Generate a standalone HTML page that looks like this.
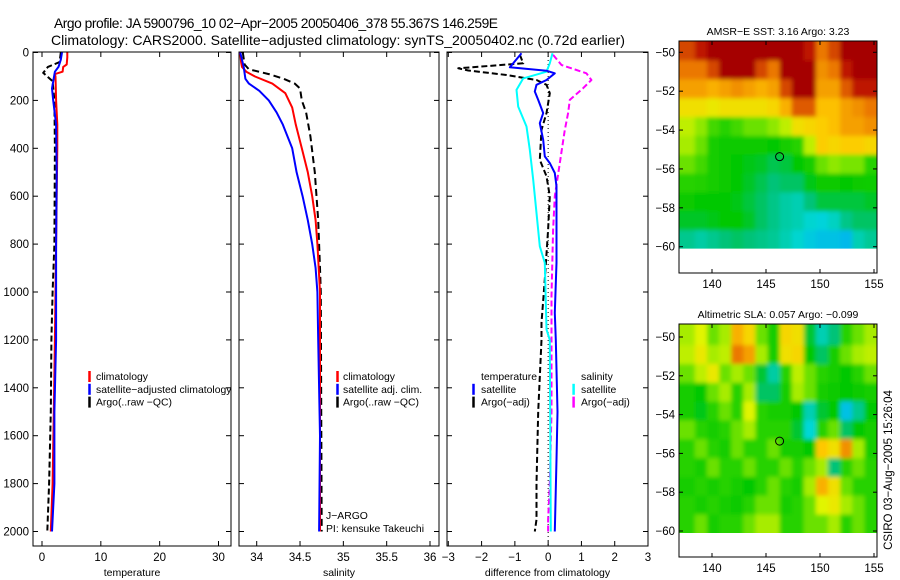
<!DOCTYPE html>
<html><head><meta charset="utf-8">
<style>
html,body{margin:0;padding:0;background:#fff;}
svg{display:block;font-family:"Liberation Sans","DejaVu Sans",sans-serif;}
</style></head>
<body>
<svg id="fig" width="900" height="580" viewBox="0 0 900 580" xmlns="http://www.w3.org/2000/svg">
<text x="54" y="28" font-size="13.8" textLength="444" lengthAdjust="spacing">Argo profile: JA 5900796_10 02−Apr−2005 20050406_378 55.367S 146.259E</text>
<text x="51" y="45" font-size="13.8" textLength="574" lengthAdjust="spacingAndGlyphs">Climatology: CARS2000. Satellite−adjusted climatology: synTS_20050402.nc (0.72d earlier)</text>
<g id="plots"></g>
<text transform="translate(892,470) rotate(-90)" text-anchor="middle" font-size="11.5">CSIRO 03−Aug−2005 15:26:04</text>
</svg>
<script>
// ---------- profile data ----------
const tempClimDepth = [0,20,50,60,80,90,100,200,300,400,600,1000,1200,1500,1800,2000];
const tempClimVal   = [4.3,4.3,4.2,3.6,3.5,2.2,2.3,2.4,2.6,2.6,2.5,2.3,2.2,2.0,1.8,1.5];
const tempSatDepth  = [0,30,60,80,150,200,300,500,800,1000,1200,1500,1800,2000];
const tempSatVal    = [3.4,3.2,2.8,2.2,1.7,1.9,2.4,2.5,2.4,2.4,2.4,2.1,2.1,1.7];
const tempArgoDepth = [0,40,60,85,120,200,400,800,1000,1200,1500,1800,2000];
const tempArgoVal   = [3.2,3.0,1.0,0.2,1.8,2.1,2.2,2.1,1.8,1.6,1.5,1.2,0.9];

const salClimDepth = [0,40,60,80,100,130,170,230,300,400,500,600,700,800,1000,2000];
const salClimVal   = [33.81,33.82,33.83,33.88,33.98,34.18,34.33,34.41,34.45,34.52,34.59,34.64,34.68,34.70,34.73,34.73];
const salSatDepth  = [0,60,110,130,160,200,250,300,400,500,600,700,800,900,1000,1200,1600,2000];
const salSatVal    = [33.81,33.85,33.87,33.91,34.03,34.14,34.23,34.30,34.41,34.46,34.53,34.59,34.64,34.68,34.70,34.71,34.73,34.72];
const salArgoDepth = [0,50,70,90,110,130,150,200,250,350,500,700,900,1000,2000];
const salArgoVal   = [33.84,33.86,33.91,34.14,34.31,34.44,34.50,34.52,34.57,34.62,34.67,34.71,34.73,34.74,34.75];

const dTempSatDepth = [3,62,76,87,115,135,163,198,253,295,365,434,462,503,559,878,1087,1200,1500,1700,2000];
const dTempSatVal   = [-0.8,-1.15,-0.05,0.2,-0.05,-0.35,-0.4,-0.3,-0.15,-0.25,-0.15,-0.1,0.05,0.2,0.25,0.25,0.2,0.23,0.28,0.25,0.2];
const dTempArgoDepth = [10,45,66,75,94,115,135,170,253,323,448,517,600,740,948,1128,1200,1500,1800,1950,2000];
const dTempArgoVal   = [-0.85,-0.75,-2.7,-2.4,-1.25,-0.35,-0.05,0.05,-0.05,-0.2,-0.25,-0.05,0.05,0,-0.1,-0.2,-0.2,-0.3,-0.35,-0.35,-0.4];
const dSalSatDepth = [3,45,80,108,156,226,309,406,531,670,809,878,1156,1200,2000];
const dSalSatVal   = [0.13,0.05,-0.05,-0.75,-0.95,-0.9,-0.65,-0.55,-0.45,-0.35,-0.25,-0.1,-0.05,0.05,0.08];
const dSalArgoDepth = [10,52,87,115,149,198,253,323,462,600,740,1017,1156,1500,1800,1950,2000];
const dSalArgoVal   = [0.15,0.4,1.15,1.3,1.05,0.65,0.6,0.5,0.35,0.2,0.15,0.1,0.1,0.1,0.05,0.0,0.0];

const depthTicks = [0,200,400,600,800,1000,1200,1400,1600,1800,2000];
const tempTicks = [0,10,20,30];
const salTicks = [34,34.5,35,35.5,36];
const salTickLabels = ["34","34.5","35","35.5","36"];
const diffTicks = [-3,-2,-1,0,1,2,3];

// ---------- map data (rows: lat -50..-60, cols: lon 137.8..154.3) ----------
const sstGrid = [
[0.9,0.95,1,1,1,1,1,1,1,1,0.95,0.85,0.9,1,1,1],
[0.85,0.85,0.9,1,1,1,0.9,0.85,1,1,1,0.82,0.85,0.95,1,1],
[0.8,0.8,0.78,0.8,0.82,0.8,0.78,0.8,0.9,1,1,0.8,0.8,0.88,0.95,0.95],
[0.7,0.7,0.68,0.7,0.7,0.7,0.7,0.72,0.78,0.88,0.88,0.76,0.76,0.8,0.82,0.85],
[0.62,0.58,0.52,0.5,0.52,0.55,0.55,0.58,0.62,0.7,0.72,0.74,0.76,0.8,0.8,0.82],
[0.6,0.55,0.45,0.42,0.42,0.42,0.42,0.4,0.45,0.5,0.62,0.74,0.72,0.74,0.74,0.72],
[0.55,0.52,0.45,0.42,0.4,0.38,0.36,0.32,0.34,0.4,0.45,0.55,0.58,0.56,0.56,0.5],
[0.5,0.48,0.45,0.42,0.4,0.36,0.32,0.28,0.3,0.3,0.38,0.42,0.42,0.4,0.42,0.44],
[0.42,0.4,0.4,0.4,0.38,0.34,0.3,0.26,0.22,0.2,0.28,0.34,0.34,0.34,0.34,0.36],
[0.36,0.36,0.38,0.4,0.4,0.36,0.3,0.26,0.22,0.2,0.16,0.14,0.18,0.26,0.3,0.3],
[0.25,0.22,0.25,0.28,0.3,0.28,0.26,0.24,0.2,0.16,0.12,0.1,0.1,0.08,0.2,0.24]];
const slaGrid = [
[0.6,0.65,0.55,0.6,0.78,0.72,0.55,0.45,0.72,0.7,0.35,0.2,0.28,0.5,0.55,0.6],
[0.62,0.68,0.6,0.62,0.85,0.8,0.6,0.45,0.7,0.72,0.4,0.3,0.45,0.55,0.6,0.62],
[0.55,0.62,0.68,0.55,0.6,0.55,0.35,0.22,0.5,0.62,0.55,0.5,0.45,0.4,0.5,0.55],
[0.45,0.4,0.55,0.6,0.5,0.6,0.3,0.3,0.45,0.6,0.55,0.45,0.42,0.4,0.42,0.45],
[0.45,0.38,0.5,0.55,0.5,0.65,0.5,0.45,0.45,0.4,0.2,0.35,0.4,0.1,0.25,0.4],
[0.55,0.5,0.45,0.5,0.55,0.6,0.5,0.5,0.5,0.35,0.15,0.5,0.55,0.3,0.4,0.45],
[0.5,0.55,0.5,0.45,0.55,0.5,0.5,0.55,0.45,0.45,0.4,0.75,0.7,0.82,0.6,0.45],
[0.5,0.45,0.55,0.5,0.5,0.55,0.5,0.5,0.55,0.5,0.55,0.6,0.28,0.5,0.55,0.5],
[0.45,0.5,0.45,0.5,0.45,0.4,0.5,0.55,0.5,0.45,0.6,0.78,0.7,0.55,0.5,0.5],
[0.5,0.45,0.5,0.45,0.42,0.5,0.55,0.55,0.45,0.5,0.55,0.65,0.68,0.6,0.55,0.5],
[0.5,0.55,0.45,0.5,0.5,0.55,0.6,0.6,0.5,0.5,0.55,0.55,0.6,0.5,0.55,0.5]];
const gridLon0 = 137.3, gridLonStep = 1.12, gridLat0 = -49.45, gridLatStep = 0.97;
const argoLon = 146.259, argoLat = -55.367;
const lonTicks = [140,145,150,155];
const latTicks = [-50,-52,-54,-56,-58,-60];

const NS="http://www.w3.org/2000/svg";
const root=document.getElementById('plots');
function mk(tag,attrs,parent){const e=document.createElementNS(NS,tag);for(const k in attrs)e.setAttribute(k,attrs[k]);(parent||root).appendChild(e);return e;}
function txt(s,x,y,attrs,parent){const t=mk('text',Object.assign({x:x,y:y,'font-size':11.5},attrs||{}),parent);t.textContent=s;return t;}

const yTop=52.5, yPerM=0.2395;
function yDepth(d){return yTop+d*yPerM;}
function linScale(d0,d1,p0,p1){return v=>p0+(v-d0)*(p1-p0)/(d1-d0);}

function panel(name,x0,x1,xs,ticks,labels,xlabel,showY){
  const g=mk('g',{});
  
  
  const yb=546;
  const box=mk('rect',{x:x0,y:52,width:x1-x0,height:yb-52,fill:'none',stroke:'#000','stroke-width':1},g);
  
  
  ticks.forEach((t,i)=>{const x=xs(t);
    mk('line',{x1:x,x2:x,y1:yb,y2:yb-5,stroke:'#000'},g);
    mk('line',{x1:x,x2:x,y1:52,y2:57,stroke:'#000'},g);
    const l=txt(labels[i],x,561,{'text-anchor':'middle'},g);
    
    
  });
  depthTicks.forEach(d=>{const y=yDepth(d);
    mk('line',{x1:x0,x2:x0+5,y1:y,y2:y,stroke:'#000'},g);
    mk('line',{x1:x1,x2:x1-5,y1:y,y2:y,stroke:'#000'},g);
    if(showY){const l=txt(String(d),29,y+4,{'text-anchor':'end'},g);
      
      }
  });
  const xl=txt(xlabel,(x0+x1)/2,576,{'text-anchor':'middle','font-size':10.5},g);
  
  
  return g;
}
function profile(g,name,xs,vals,depths,color,dash,w){
  const pts=vals.map((v,i)=>xs(v).toFixed(1)+','+yDepth(depths[i]).toFixed(1)).join(' ');
  const p=mk('polyline',{points:pts,fill:'none',stroke:color,'stroke-width':w||2,'stroke-dasharray':dash||'none','stroke-linejoin':'round'},g);
  
  
}
function legend(g,items,xb,xt,y0){
  items.forEach((it,i)=>{const y=y0+i*12.8;
    if(it[1]){const b=mk('line',{x1:xb,x2:xb,y1:y-9,y2:y+2,stroke:it[1],'stroke-width':2.5},g);
      
      }
    const t=txt(it[0],xt,y,{'font-size':10.4},g);
    
    
  });
}
// panel 1
const xT=linScale(0,30,42,218.5);
const g1=panel('temperature-panel',33,231,xT,tempTicks,tempTicks.map(String),'temperature',true);
profile(g1,'temp-argo-line',xT,tempArgoVal,tempArgoDepth,'#000','6,3');
profile(g1,'temp-climatology-line',xT,tempClimVal,tempClimDepth,'#f00');
profile(g1,'temp-satellite-line',xT,tempSatVal,tempSatDepth,'#00f');
legend(g1,[['climatology','#f00'],['satellite−adjusted climatology','#00f'],['Argo(..raw −QC)','#000']],89.5,96,380);
// panel 2
const xS=linScale(34,36,256.7,430);
const g2=panel('salinity-panel',239,439,xS,salTicks,salTickLabels,'salinity',false);
profile(g2,'sal-argo-line',xS,salArgoVal,salArgoDepth,'#000','7,4');
profile(g2,'sal-climatology-line',xS,salClimVal,salClimDepth,'#f00');
profile(g2,'sal-satellite-line',xS,salSatVal,salSatDepth,'#00f');
legend(g2,[['climatology','#f00'],['satellite adj. clim.','#00f'],['Argo(..raw −QC)','#000']],337.5,343,380);
legend(g2,[['J−ARGO',null],['PI: kensuke Takeuchi',null]],0,326,519);
// panel 3
const xD=linScale(-3,3,448.3,648);
const g3=panel('difference-panel',447,648,xD,diffTicks,diffTicks.map(v=>v<0?'−'+(-v):String(v)),'difference from climatology',false);
const z=mk('line',{x1:xD(0),x2:xD(0),y1:52,y2:546,stroke:'#000','stroke-dasharray':'1,3'},g3);


profile(g3,'dtemp-argo-line',xD,dTempArgoVal,dTempArgoDepth,'#000','6,3');
profile(g3,'dsal-argo-line',xD,dSalArgoVal,dSalArgoDepth,'#f0f','6,3');
profile(g3,'dsal-satellite-line',xD,dSalSatVal,dSalSatDepth,'#0ff');
profile(g3,'dtemp-satellite-line',xD,dTempSatVal,dTempSatDepth,'#00f');
legend(g3,[['temperature',null],['satellite','#00f'],['Argo(−adj)','#000']],473.5,481,380);
legend(g3,[['salinity',null],['satellite','#0ff'],['Argo(−adj)','#f0f']],573.6,581,380);

// ---------- maps ----------
const defs=mk('defs',{});
const flt=mk('filter',{id:'smooth',x:'-10%',y:'-10%',width:'120%',height:'120%'},defs);
mk('feGaussianBlur',{stdDeviation:2.2},flt);
const stops=[[0,[0,150,255]],[0.15,[0,215,215]],[0.28,[0,195,120]],[0.4,[0,200,0]],[0.5,[40,210,0]],[0.56,[120,228,0]],[0.65,[225,245,0]],[0.75,[255,200,0]],[0.85,[235,120,0]],[0.95,[190,20,0]],[1,[165,0,0]]];
function cmap(v){v=Math.max(0,Math.min(1,v));for(let i=1;i<stops.length;i++){if(v<=stops[i][0]){const a=stops[i-1],b=stops[i];const t=(v-a[0])/(b[0]-a[0]);const c=a[1].map((x,k)=>Math.round(x+(b[1][k]-x)*t));return 'rgb('+c.join(',')+')';}}return 'rgb(165,0,0)';}
function map(name,grid,title,top,bottom,lat50y,lat60y){
  const g=mk('g',{});
  
  
  const xL=linScale(140,150,712,820), yL=linScale(-50,-60,lat50y,lat60y);
  const x0=679,x1=877;
  const cid=name+'-clip';
  const cp=mk('clipPath',{id:cid},g);mk('rect',{x:x0,y:top,width:x1-x0,height:yL(-60.1)-top},cp);
  const clipG=mk('g',{'clip-path':'url(#'+cid+')'},g);
  const cells=mk('g',{filter:'url(#smooth)'},clipG);
  const nr=grid.length, nc=grid[0].length;
  grid.forEach((row,r)=>row.forEach((v,c)=>{
    const lonA=gridLon0+c*gridLonStep, latA=gridLat0-r*gridLatStep;
    let xa=xL(lonA), ya=yL(latA);
    let xb=xL(lonA+gridLonStep)+0.6, yb=yL(latA-gridLatStep)+0.6;
    if(c===0)xa-=20; if(c===nc-1)xb+=20; if(r===0)ya-=20; if(r===nr-1)yb+=20;
    const cell=mk('rect',{x:xa.toFixed(1),y:ya.toFixed(1),width:(xb-xa).toFixed(1),height:(yb-ya).toFixed(1),fill:cmap(v)},cells);
    
    
  }));
  const fr=mk('rect',{x:x0,y:top,width:x1-x0,height:bottom-top,fill:'none',stroke:'#000'},g);
  
  
  lonTicks.forEach(l=>{const x=xL(l);mk('line',{x1:x,x2:x,y1:bottom,y2:bottom-4,stroke:'#000'},g);mk('line',{x1:x,x2:x,y1:top,y2:top+4,stroke:'#000'},g);
    const t=txt(String(l),x,bottom+15,{'text-anchor':'middle'},g);
    
    });
  latTicks.forEach(l=>{const y=yL(l);mk('line',{x1:x0,x2:x0+4,y1:y,y2:y,stroke:'#000'},g);mk('line',{x1:x1,x2:x1-4,y1:y,y2:y,stroke:'#000'},g);
    const t=txt('−'+(-l),675,y+4,{'text-anchor':'end'},g);
    
    });
  const m=mk('circle',{cx:xL(argoLon),cy:yL(argoLat),r:4,fill:'none',stroke:'#000','stroke-width':1},g);
  
  
  const tt=txt(title,778,top-6,{'text-anchor':'middle','font-size':10.5},g);
  
  
}
map('sst-map',sstGrid,'AMSR−E SST: 3.16 Argo: 3.23',41,273,52.3,246.7);
map('sla-map',slaGrid,'Altimetric SLA: 0.057 Argo: −0.099',324,557,337,531);
</script>
</body></html>
